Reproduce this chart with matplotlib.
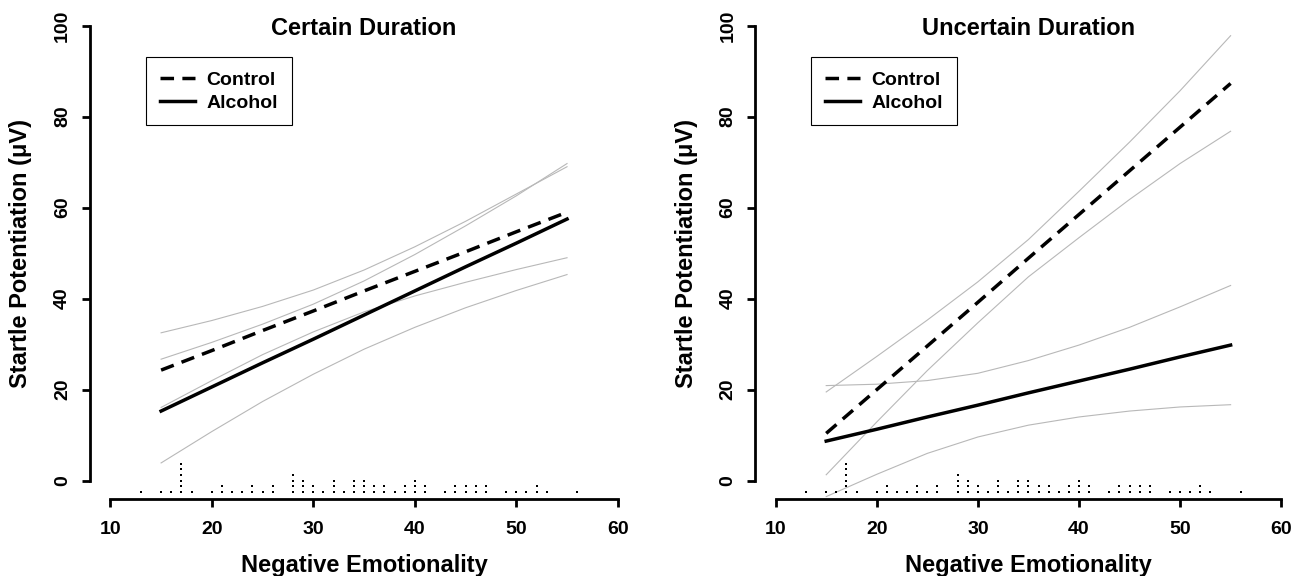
import matplotlib
matplotlib.use("Agg")
import numpy as np
import matplotlib.pyplot as plt

plt.rcParams['font.family'] = ['Liberation Sans', 'DejaVu Sans']
plt.rcParams['font.weight'] = 'bold'

neg_emo = [15, 20, 25, 30, 35, 40, 45, 50, 55]

# Certain Duration panel
certain_control_fit = [24.3, 28.6, 33.0, 37.3, 41.7, 46.0, 50.3, 54.7, 59.0]
certain_control_upper = [32.5, 35.2, 38.3, 41.9, 46.3, 51.4, 57.0, 63.0, 69.0]
certain_control_lower = [16.1, 22.0, 27.7, 32.7, 37.1, 40.6, 43.6, 46.4, 49.0]
certain_alcohol_fit = [15.3, 20.6, 25.9, 31.1, 36.4, 41.7, 47.0, 52.2, 57.5]
certain_alcohol_upper = [26.7, 30.4, 34.4, 38.8, 43.9, 49.7, 56.0, 62.6, 69.7]
certain_alcohol_lower = [3.9, 10.8, 17.4, 23.4, 28.9, 33.7, 38.0, 41.8, 45.3]

# Uncertain Duration panel
uncertain_control_fit = [10.4, 20.0, 29.6, 39.2, 48.9, 58.5, 68.1, 77.7, 87.3]
uncertain_control_upper = [19.5, 27.3, 35.3, 43.7, 53.0, 63.6, 74.4, 85.7, 97.8]
uncertain_control_lower = [1.3, 12.9, 24.2, 34.7, 44.8, 53.4, 61.8, 69.7, 76.8]
uncertain_alcohol_fit = [8.7, 11.3, 14.0, 16.6, 19.3, 21.9, 24.5, 27.2, 29.8]
uncertain_alcohol_upper = [20.9, 21.2, 22.0, 23.6, 26.4, 29.8, 33.7, 38.2, 42.9]
uncertain_alcohol_lower = [-3.5, 1.4, 6.0, 9.6, 12.2, 14.0, 15.3, 16.2, 16.7]

# observed negative emotionality scores (dot plot along the x axis)
score_values = [13, 15, 16, 17, 18, 20, 21, 22, 23, 24, 25, 26, 28, 29, 30, 31, 32, 33,
                34, 35, 36, 37, 38, 39, 40, 41, 43, 44, 45, 46, 47, 49, 50, 51, 52, 53, 56]
score_counts = [1, 1, 1, 6, 1, 1, 2, 1, 1, 2, 1, 2, 4, 3, 2, 1, 3, 1,
                3, 3, 2, 2, 1, 2, 3, 2, 1, 2, 2, 2, 2, 1, 1, 1, 2, 1, 1]

x_ticks = [10, 20, 30, 40, 50, 60]
y_ticks = [0, 20, 40, 60, 80, 100]

panels = [
    ("Certain Duration", certain_control_fit, certain_control_upper, certain_control_lower,
     certain_alcohol_fit, certain_alcohol_upper, certain_alcohol_lower),
    ("Uncertain Duration", uncertain_control_fit, uncertain_control_upper, uncertain_control_lower,
     uncertain_alcohol_fit, uncertain_alcohol_upper, uncertain_alcohol_lower),
]

fig = plt.figure(figsize=(12.94, 5.76), dpi=100)
axes_rects = [[0.0696, 0.1339, 0.4235, 0.8531], [0.5838, 0.1339, 0.4219, 0.8531]]

ci_color = '#b8b8b8'
dash = (0, (3.9, 2.4))

for rect, (title, c_fit, c_up, c_lo, a_fit, a_up, a_lo) in zip(axes_rects, panels):
    ax = fig.add_axes(rect)

    for band in (c_up, c_lo, a_up, a_lo):
        ax.plot(neg_emo, band, color=ci_color, lw=0.8)
    l_ctrl, = ax.plot(neg_emo, c_fit, color='black', lw=2.5, linestyle=dash, label='Control')
    l_alc, = ax.plot(neg_emo, a_fit, color='black', lw=2.5, label='Alcohol')

    # stacked dots for the data distribution
    dx, dy = [], []
    for v, n in zip(score_values, score_counts):
        for k in range(n):
            dx.append(v)
            dy.append(-2.5 + 1.25 * k)
    ax.plot(dx, dy, 's', color='black', markersize=2.1, markeredgewidth=0, clip_on=False)

    ax.set_xlim(8, 62)
    ax.set_ylim(-4, 104)
    ax.set_xticks(x_ticks)
    ax.set_yticks(y_ticks)
    for s in ('top', 'right'):
        ax.spines[s].set_visible(False)
    ax.spines['left'].set_bounds(0, 100)
    ax.spines['bottom'].set_bounds(10, 60)
    for s in ('left', 'bottom'):
        ax.spines[s].set_linewidth(2.0)
    ax.tick_params(axis='both', width=2.0, length=5.8, labelsize=14)
    ax.tick_params(axis='x', pad=10)
    ax.tick_params(axis='y', pad=8)
    for lab in ax.get_yticklabels():
        lab.set_rotation(90)
        lab.set_va('center')
    for lab in ax.get_xticklabels() + ax.get_yticklabels():
        lab.set_fontweight('bold')

    ax.set_xlabel('Negative Emotionality', fontsize=17, fontweight='bold')
    ax.set_ylabel('Startle Potentiation (μV)', fontsize=17, fontweight='bold')
    ax.xaxis.set_label_coords(0.5, -0.112)
    ax.yaxis.set_label_coords(-0.106, 0.5)

    ax.text(0.5, 0.958, title, transform=ax.transAxes, ha='center', va='center',
            fontsize=17, fontweight='bold')

    leg = ax.legend(handles=[l_ctrl, l_alc], loc='upper left', bbox_to_anchor=(0.102, 0.8987),
                    borderaxespad=0, frameon=True, fancybox=False, edgecolor='black',
                    framealpha=1, prop={'size': 14, 'weight': 'bold'}, handlelength=1.8,
                    handletextpad=0.6, borderpad=0.71, labelspacing=0.27)
    leg.get_frame().set_linewidth(0.8)

fig.savefig('out.png', dpi=100)
